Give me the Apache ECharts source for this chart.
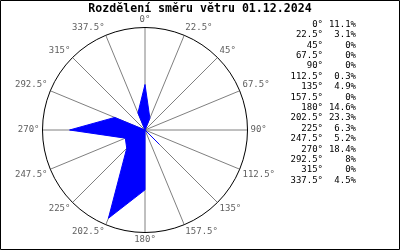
<!DOCTYPE html>
<html><head><meta charset="utf-8">
<script src="https://cdn.jsdelivr.net/npm/echarts@6/dist/echarts.min.js"></script>
<style>html,body{margin:0;padding:0;background:#fff}#c{width:400px;height:250px}</style>
</head><body><div id="c"></div>
<script>
const titleText = 'Rozdělení směru větru 01.12.2024';
const directions = [0, 22.5, 45, 67.5, 90, 112.5, 135, 157.5, 180, 202.5, 225, 247.5, 270, 292.5, 315, 337.5];
const percents = [11.1, 3.1, 0, 0, 0, 0.3, 4.9, 0, 14.6, 23.3, 6.3, 5.2, 18.4, 8, 0, 4.5];
const radiusMax = 25;

const seriesData = directions.map((d, i) => [percents[i], d]);
seriesData.push([percents[0], 360]);

const font = 'DejaVu Sans Mono';
const graphics = [
  {type:'rect', shape:{x:0.5,y:0.5,width:399,height:249}, style:{fill:'none', stroke:'#000', lineWidth:1}, silent:true},
  {type:'text', x:200, y:9, style:{text:titleText, font:'bold 11.6px "DejaVu Sans Mono"', fill:'#000', align:'center', verticalAlign:'middle'}}
];
directions.forEach((d, i) => {
  const y = 24.5 + i * 10.4;
  graphics.push({type:'text', x:323, y:y, style:{text:d + '°', font:'9px "DejaVu Sans Mono"', fill:'#000', align:'right', verticalAlign:'middle'}});
  graphics.push({type:'text', x:356, y:y, style:{text:percents[i] + '%', font:'9px "DejaVu Sans Mono"', fill:'#000', align:'right', verticalAlign:'middle'}});
});

const chart = echarts.init(document.getElementById('c'), null, {renderer:'canvas'});
chart.setOption({
  animation:false,
  backgroundColor:'#fff',
  polar:{center:[145,130], radius:102.5},
  angleAxis:{
    type:'value', min:0, max:360, interval:22.5, startAngle:90, clockwise:true,
    axisLine:{show:true, lineStyle:{color:'#000', width:1}},
    axisTick:{show:false},
    splitLine:{show:true, lineStyle:{color:'#808080', width:1}},
    axisLabel:{show:true, margin:3, color:'#606060', fontFamily:font, fontSize:9,
      formatter:v => (v >= 360 ? '' : v + '°')}
  },
  radiusAxis:{type:'value', min:0, max:radiusMax, show:false, splitLine:{show:false}},
  series:[{
    type:'line', coordinateSystem:'polar', data:seriesData, symbol:'none', smooth:false,
    lineStyle:{color:'#0000ff', width:1},
    areaStyle:{color:'#0000ff', opacity:1},
    z:1
  }],
  graphic:graphics
});
</script></body></html>
